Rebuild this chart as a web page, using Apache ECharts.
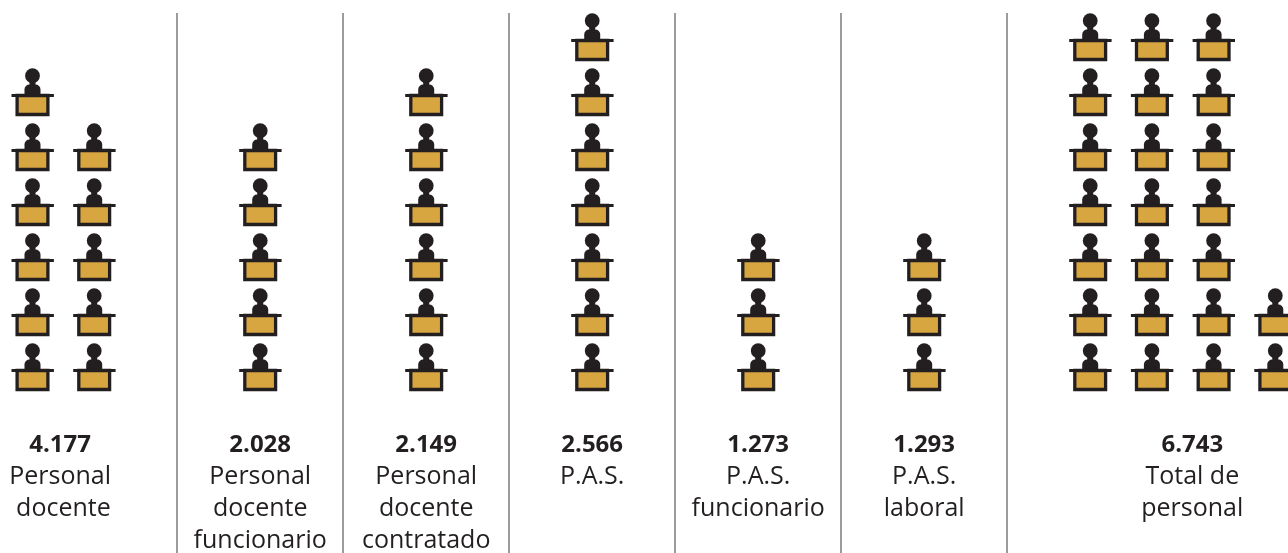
<!DOCTYPE html>
<html><head><meta charset="utf-8">
<script src="https://cdn.jsdelivr.net/npm/echarts@6/dist/echarts.min.js"></script>
<style>html,body{margin:0;padding:0;background:#fff}#c{width:1288px;height:553px}</style>
</head><body><div id="c"></div>
<script>
const values = ['4.177','2.028','2.149','2.566','1.273','1.293','6.743'];
const labels = [['Personal','\u00a0docente'],['Personal','docente','funcionario'],['Personal','docente','contratado'],['P.A.S.'],['P.A.S.','funcionario'],['P.A.S.','laboral'],['Total de','personal']];
const iconColumns = [[6,5],[5],[6],[7],[3],[3],[7,7,7,2]];

// layout (in axis units: x = panels, y = icon rows)
const colStep = 61.7/166, firstCol = [-1,0,0,0,0,0,0], labelShift = [-0.205,0,0,0,0,0,0.615], labelRow = -1.09;
const DARK='#231f20', GOLD='#d8a640';

const icons=[];
iconColumns.forEach((cols,p)=>cols.forEach((n,c)=>{for(let r=0;r<n;r++)icons.push([p+(firstCol[p]+c)*colStep,r]);}));
const labelData=values.map((v,i)=>({value:[i+labelShift[i],labelRow],text:'{v|'+v+'}\n'+labels[i].map(s=>'{c|'+s+'}').join('\n')}));
const dividers=values.slice(1).map((_,i)=>[{xAxis:i+.5,y:13},{xAxis:i+.5,y:553}]);

const chart=echarts.init(document.getElementById('c'),null,{renderer:'canvas'});
chart.setOption({
 animation:false,
 grid:{left:94.2,right:197.8,top:39,height:330},
 xAxis:{type:'value',min:0,max:6,show:false},
 yAxis:{type:'value',min:0,max:6,show:false},
 series:[
 {type:'custom',clip:false,data:icons,
  renderItem(params,api){
   const [x,y]=api.coord([api.value(0),api.value(1)]);
   return {type:'group',x,y,children:[
    {type:'circle',shape:{cx:0,cy:-18.3,r:7.4},style:{fill:DARK}},
    {type:'rect',shape:{x:-3,y:-13,width:6,height:5},style:{fill:DARK}},
    {type:'rect',shape:{x:-8,y:-9.5,width:16,height:11,r:[5,5,0,0]},style:{fill:DARK}},
    {type:'rect',shape:{x:-15.4,y:1.5,width:30.8,height:19},style:{fill:GOLD,stroke:DARK,lineWidth:3.3}},
    {type:'rect',shape:{x:-21,y:0,width:42.4,height:3},style:{fill:DARK}}
   ]};
  }},
 {type:'scatter',symbolSize:0,clip:false,data:labelData,itemStyle:{opacity:1},
  label:{show:true,position:'bottom',distance:0,align:'center',opacity:1,
   formatter:p=>p.data.text,
   rich:{v:{fontFamily:'Open Sans',fontWeight:'bold',fontSize:24,lineHeight:32,color:DARK,align:'center'},
         c:{fontFamily:'Open Sans',fontSize:25,lineHeight:32,color:DARK,align:'center'}}},
  markLine:{silent:true,symbol:'none',label:{show:false},lineStyle:{color:'#9c9c9c',width:2,type:'solid',opacity:1},data:dividers}}
 ]
});
</script></body></html>
